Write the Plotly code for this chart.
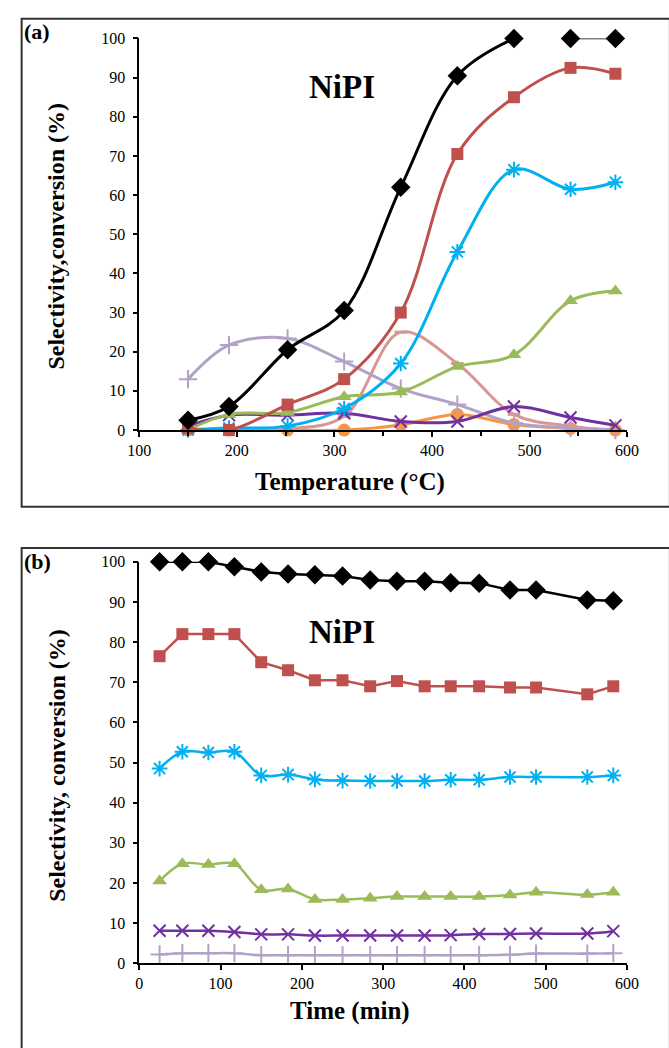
import plotly.graph_objects as go

# ---------------- data: panel (a) ----------------
temp_c = [150, 192, 252, 310, 368, 426, 484, 542, 588]
a_conversion = [2.5, 6, 20.5, 30.5, 62, 90.5, 100, 100, 100]
a_red = [0.5, 0, 6.5, 13, 30, 70.5, 85, 92.5, 91]
a_cyan = [0, 0.5, 1, 5.5, 17, 45.5, 66.5, 61.5, 63.3]
a_green = [0, 4, 4.5, 8.5, 9.7, 16.2, 19.2, 33, 35.5]
a_purple = [1, 3.8, 3.8, 4.3, 2.2, 2.2, 6, 3.2, 1.2]
a_lavender = [13, 21.7, 23.4, 17.5, 10.6, 6.5, 1.8, 0.5, 0]
a_pink = [0, 0, 0.3, 3.5, 25, 17, 4, 1, 0]
a_orange = [0, 0, 0, 0, 1.3, 4, 1.4, 0.4, 0]

# ---------------- data: panel (b) ----------------
time_min = [25, 53, 85, 117, 150, 183, 216, 250, 284, 317, 351, 383, 418, 456, 488, 551, 583]
b_conversion = [100, 100, 100, 98.8, 97.5, 97, 96.8, 96.5, 95.5, 95.2, 95.2, 94.8, 94.7, 93, 93, 90.5, 90.3]
b_red = [76.5, 82, 82, 82, 75, 73, 70.5, 70.5, 69, 70.3, 69, 69, 69, 68.7, 68.7, 67, 69]
b_cyan = [48.5, 52.7, 52.5, 52.7, 46.8, 47, 45.8, 45.5, 45.4, 45.4, 45.4, 45.7, 45.7, 46.4, 46.4, 46.4, 46.8]
b_green = [20.5, 24.8, 24.6, 24.8, 18.3, 18.5, 15.9, 15.9, 16.2, 16.6, 16.6, 16.6, 16.6, 17, 17.7, 17.1, 17.7]
b_purple = [8.1, 8.1, 8.1, 7.8, 7.2, 7.2, 6.9, 6.9, 6.9, 6.9, 6.9, 7.0, 7.3, 7.3, 7.4, 7.4, 8.0]
b_lavender = [2.2, 2.5, 2.5, 2.5, 2.0, 2.0, 2.0, 2.0, 2.0, 2.0, 2.0, 2.0, 2.0, 2.1, 2.4, 2.4, 2.5]

BLACK = "#000000"
RED = "#C0504D"
CYAN = "#00B0F0"
GREEN = "#9BBB59"
PURPLE = "#7030A0"
LAVENDER = "#B3A2C7"
PINK = "#D99694"
ORANGE = "#F79646"

FONT = "Liberation Serif"
W, H = 669, 1048

fig = go.Figure()


def add(x, y, color, symbol, size, xa, ya, shape="spline", width=3, mline=0, mcolor=None):
    fig.add_trace(go.Scatter(
        x=x, y=y, mode="lines+markers", xaxis=xa, yaxis=ya,
        line=dict(color=color, width=width, shape=shape, smoothing=1.0 if shape == "spline" else None),
        marker=dict(symbol=symbol, size=size, color=mcolor or color,
                    line=dict(color=color, width=mline)),
        cliponaxis=False, showlegend=False, hoverinfo="x+y"))


# panel (a) — drawn back to front
add(temp_c, a_orange, ORANGE, "circle", 13, "x", "y")
add(temp_c, a_pink, PINK, "line-ew-open", 9, "x", "y", mline=3)
add(temp_c, a_lavender, LAVENDER, "cross-thin-open", 13, "x", "y", mline=2)
add(temp_c, a_purple, PURPLE, "x-thin-open", 12, "x", "y", mline=2)
add(temp_c, a_green, GREEN, "triangle-up", 13, "x", "y")
add(temp_c, a_cyan, CYAN, "asterisk-open", 13, "x", "y", mline=2)
add(temp_c, a_red, RED, "square", 12, "x", "y")
add(temp_c[:7], a_conversion[:7], BLACK, "diamond", 15, "x", "y")
add(temp_c[7:], a_conversion[7:], BLACK, "diamond", 15, "x", "y", shape="linear", width=1.5)

# panel (b)
add(time_min, b_lavender, LAVENDER, "cross-thin-open", 13, "x2", "y2", mline=2, width=2.5)
add(time_min, b_purple, PURPLE, "x-thin-open", 12, "x2", "y2", mline=2, width=2.5)
add(time_min, b_green, GREEN, "triangle-up", 13, "x2", "y2", width=2.5)
add(time_min, b_cyan, CYAN, "asterisk-open", 13, "x2", "y2", mline=2, width=2.5)
add(time_min, b_red, RED, "square", 12, "x2", "y2", shape="linear", width=2.5)
add(time_min, b_conversion, BLACK, "diamond", 15, "x2", "y2", shape="linear", width=2.5)

x0, x1 = 132 / W, 638 / W
ya_dom = [1 - 429 / H, 1 - 31 / H]
yb_dom = [1 - 971 / H, 1 - 563 / H]

axis_common = dict(
    showline=True, linecolor=BLACK, linewidth=1.5, showgrid=False, zeroline=False,
    ticks="outside", ticklen=5, tickwidth=1.5, tickcolor=BLACK,
    tickfont=dict(family=FONT, size=16, color=BLACK),
)

fig.update_layout(
    width=W, height=H, paper_bgcolor="white", plot_bgcolor="white",
    margin=dict(l=0, r=0, t=0, b=0),
    font=dict(family=FONT, color=BLACK),
    xaxis=dict(domain=[x0, x1], anchor="y", range=[100, 600], dtick=100,
               minor=dict(dtick=50, ticks="outside", ticklen=4, tickwidth=1.5, tickcolor=BLACK),
               **axis_common),
    yaxis=dict(domain=ya_dom, anchor="x", range=[0, 100], dtick=10, ticksuffix=" ", **axis_common),
    xaxis2=dict(domain=[x0, x1], anchor="y2", range=[0, 600], dtick=100, **axis_common),
    yaxis2=dict(domain=yb_dom, anchor="x2", range=[0, 100], dtick=10, ticksuffix=" ", **axis_common),
)


def ann(text, px, py, size, angle=0, xanchor="center", yanchor="middle"):
    fig.add_annotation(text=text, x=px / W, y=1 - py / H, xref="paper", yref="paper",
                       showarrow=False, textangle=angle, xanchor=xanchor, yanchor=yanchor,
                       font=dict(family=FONT, size=size, color=BLACK))


ann("<b>(a)</b>", 10, 24, 22, xanchor="left")
ann("<b>(b)</b>", 10, 563, 22, xanchor="left")
ann("<b>NiPI</b>", 342, 80, 33)
ann("<b>NiPI</b>", 342, 634, 33)
ann("<b>Temperature (°C)</b>", 351, 482, 25)
ann("<b>Time (min)</b>", 351, 1020, 25)
ann("<b>Selectivity,conversion (%)</b>", 46, 232, 24, angle=-90)
ann("<b>Selectivity, conversion (%)</b>", 46, 770, 24, angle=-90)

# panel frames
fig.add_shape(type="rect", xref="paper", yref="paper",
              x0=10 / W, x1=1.02, y0=1 - 507 / H, y1=1 - 11 / H,
              line=dict(color="#333333", width=2), fillcolor="rgba(0,0,0,0)", layer="below")
fig.add_shape(type="rect", xref="paper", yref="paper",
              x0=10 / W, x1=1.02, y0=-0.02, y1=1 - 549 / H,
              line=dict(color="#333333", width=2), fillcolor="rgba(0,0,0,0)", layer="below")

fig.write_html(
    "out.html",
    config={"displayModeBar": False},
    post_script="document.body.style.margin='0px';document.body.style.overflow='hidden';",
)
